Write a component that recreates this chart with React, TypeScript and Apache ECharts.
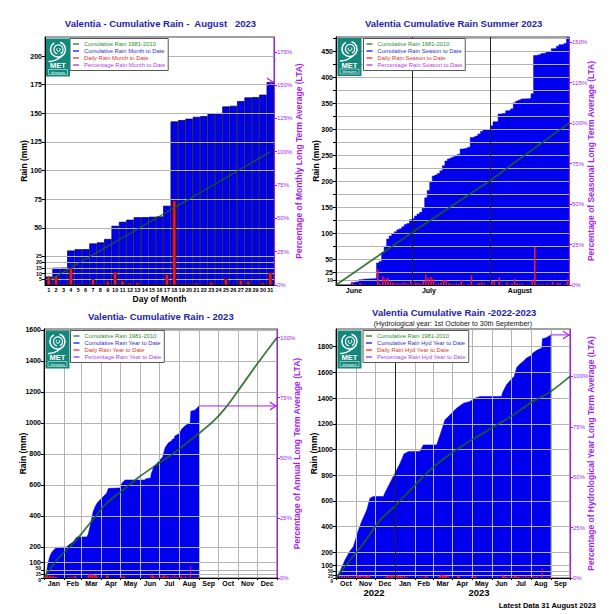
import { useEffect, useRef } from "react";
import * as echarts from "echarts";

const FONT = '"Liberation Sans", Arial, sans-serif';
const GREEN = "#1a641a";
const BLUE = "#0000ee";
const RED = "#ee1c25";
const PURPLE = "#a21ff0";
const TITLE = "#2424a6";
const GRID = "#b4b4b4";

// ---------- Panel 1: August 2023 ----------
const augDays = ["1","2","3","4","5","6","7","8","9","10","11","12","13","14","15","16","17","18","19","20","21","22","23","24","25","26","27","28","29","30","31"];
const augDaily = [7.3, 7.8, 0.1, 14.9, 1.1, 0.1, 5.0, 0.9, 3.0, 11.5, 3.5, 1.8, 2.2, 0.1, 0.3, 0.3, 9.3, 73.6, 1.2, 1.2, 1.7, 0.6, 2.3, 0.4, 5.7, 0.6, 4.1, 3.2, 0.3, 2.1, 11.0];
const augLta = [3.8, 7.5, 11.3, 15.0, 18.8, 22.5, 26.3, 30.0, 33.8, 37.5, 41.3, 45.0, 48.8, 52.5, 56.3, 60.0, 63.8, 67.5, 71.3, 75.0, 78.8, 82.5, 86.3, 90.0, 93.8, 97.5, 101.3, 105.0, 108.8, 112.6, 116.4];
const augTicks = [0, 5, 10, 15, 20, 25, 50, 75, 100, 125, 150, 175, 200];
const augMax = 216.6;
const pctTicksAug = [0, 25, 50, 75, 100, 125, 150, 175];

// ---------- Panel 2: Summer 2023 ----------
const junDaily = [0, 0, 0, 0, 0, 0, 5, 1, 0, 4, 1, 0.5, 0, 0.5, 0, 0.5, 30, 3, 17, 12, 14, 6, 5, 3, 4, 2, 4, 4, 2, 7.5];
const julDaily = [2, 5, 4, 3, 8, 20, 14, 16, 12, 2, 3, 5, 10, 9, 4, 2, 2, 3, 2, 10, 1, 0.5, 2, 19, 1, 1.5, 4, 5, 3, 0.5, 0];
const summerLta = [[0, 0], [30, 101], [61, 202], [92, 312]];
const summerTicks = [0, 10, 25, 50, 75, 100, 125, 150, 175, 200, 225, 250, 275, 300, 325, 350, 375, 400, 425, 450, 475];
const summerLabels = [0, 10, 25, 50, 100, 150, 200, 250, 300, 350, 400, 450];
const summerMonthPos = [7.1, 36.7, 72.6];
const summerMonthNames = ["June", "July", "August"];
const summerMonthLines = [30, 61];
const summerMax = 478;
const pctTicksSummer = [0, 25, 50, 75, 100, 125, 150];

// ---------- Panel 3: Year 2023 ----------
const yearCum = [[0,0],[2,15],[4,40],[6,90],[9,138],[12,165],[15,180],[18,192],[20,198],[35,200],[39,213],[46,234],[51,262],[52,265],[67,265],[69,280],[72,331],[75,390],[77,428],[80,460],[83,482],[90,514],[98,546],[101,578],[119,580],[122,611],[127,632],[157,632],[161,642],[167,645],[168,674],[170,694],[172,720],[176,734],[181,758],[186,780],[187,800],[188,814],[189,830],[190,842],[195,871],[200,884],[201,894],[204,897],[205,916],[212,931],[213,939],[216,962],[222,984],[229,1001],[230,1075],[236,1082],[243,1109]];
const yearLta = [[0,0],[20,116],[46,224],[72,353],[98,482],[124,568],[150,654],[176,729],[203,804],[223,869],[243,933],[265,1009],[284,1095],[307,1224],[333,1374],[365,1550]];
const janMayRain = [[1,5],[2,8],[3,12],[4,20],[5,15],[6,18],[7,10],[8,6],[9,16],[10,12],[11,6],[12,14],[13,10],[15,14],[16,8],[18,10],[19,8],[20,6],[36,4],[38,5],[40,6],[43,8],[46,10],[48,12],[50,15],[51,6],[68,8],[70,14],[71,22],[72,25],[74,20],[75,25],[76,24],[77,22],[79,18],[80,16],[81,20],[83,18],[85,10],[90,12],[98,12],[99,15],[100,18],[101,14],[120,10],[122,12],[124,10],[126,12],[127,10]];
const yearMonthStarts = [0, 31, 59, 90, 120, 151, 181, 212, 243, 273, 304, 334, 365];
const yearMonthMids = [15.5, 45, 74.5, 105, 135.5, 166, 196.5, 227.5, 258, 288.5, 319, 349.5];
const monthsJan = ["Jan", "Feb", "Mar", "Apr", "May", "Jun", "Jul", "Aug", "Sep", "Oct", "Nov", "Dec"];
const yearTicks = [0, 25, 50, 100, 200, 400, 600, 800, 1000, 1200, 1400, 1600];
const yearMax = 1605;
const pctTicks = [0, 25, 50, 75, 100];

// ---------- Panel 4: Hydrological year 2022-2023 ----------
const hydCum = [[0,0],[6,49],[14,140],[22,213],[27,244],[35,374],[40,439],[48,530],[53,621],[58,634],[74,634],[76,660],[84,738],[92,816],[100,894],[106,966],[113,984],[131,985],[136,1036],[157,1036],[165,1153],[170,1231],[178,1270],[188,1322],[199,1361],[209,1374],[217,1400],[225,1413],[258,1413],[260,1445],[262,1465],[266,1504],[273,1545],[278,1570],[282,1640],[287,1665],[293,1690],[297,1712],[304,1730],[308,1755],[314,1775],[321,1790],[322,1862],[328,1870],[335,1892]];
const hydLta = [[0,0],[22,140],[43,270],[69,452],[92,560],[121,712],[147,842],[173,945],[199,1036],[225,1114],[251,1192],[277,1270],[303,1361],[335,1452],[365,1569]];
const octDecRain = [[3,10],[6,15],[9,12],[11,18],[14,15],[17,14],[20,16],[22,12],[25,10],[27,14],[29,8],[33,20],[35,25],[37,18],[39,22],[41,15],[44,20],[46,18],[48,15],[50,20],[52,25],[53,15],[77,8],[79,12],[81,15],[83,20],[85,25],[87,18],[89,22],[91,20]];
const hydMonthStarts = [0, 31, 61, 92, 123, 151, 182, 212, 243, 273, 304, 335, 365];
const hydMonthMids = [15.5, 46, 76.5, 107.5, 137, 166.5, 197, 227.5, 258, 288.5, 319.5, 350];
const monthsOct = ["Oct", "Nov", "Dec", "Jan", "Feb", "Mar", "Apr", "May", "Jun", "Jul", "Aug", "Sep"];
const hydTicks = [0, 25, 50, 100, 200, 400, 600, 800, 1000, 1200, 1400, 1600, 1800];
const hydMax = 1938;
const hydYearLine = [92];

const cumsum = (a: number[]) => {
  let s = 0;
  return a.map((v) => Math.round((s += v) * 10) / 10);
};
const last = <T,>(a: T[]) => a[a.length - 1];
const labelFn = (pos: number[], names: string[]) => (v: number) => {
  let best = 0;
  pos.forEach((p, i) => {
    if (Math.abs(p - v) < Math.abs(pos[best] - v)) best = i;
  });
  return names[best];
};

const CHEVRON = "path://M0,0L10,5L0,10L0,8.4L7.2,5L0,1.6Z";

// label formatters for crowded low ticks
const augFmt = (v: number) => (v <= 25 ? `{s|${v}}` : String(v));
const summerFmt = (v: number) => (v <= 10 ? `{s|${v}}` : String(v));
const yearFmt = (v: number) => (v === 0 ? "{lo|0}" : v === 25 ? "{t|25}" : v === 50 ? "{hi|50}" : String(v));
const hydFmt = (v: number) => (v === 0 ? "{lo2|0}" : v === 25 ? "{mid2|25}" : v === 50 ? "{t|50}" : String(v));
const base5 = { fontSize: 5, fontWeight: "bold", color: "#000", fontFamily: FONT };
const smallRich = {
  s: { ...base5, fontSize: 5.5 },
  t: { ...base5, fontSize: 4.5 },
  lo: { ...base5, padding: [4, 0, 0, 0] },
  hi: { ...base5, padding: [0, 0, 4, 0] },
  lo2: { ...base5, fontSize: 4.5, padding: [7, 0, 0, 0] },
  mid2: { ...base5, fontSize: 4.5, padding: [3, 0, 0, 0] },
};

function buildOption() {
  const augCum = cumsum(augDaily);
  const ltaAug = last(augLta);
  const pctAug = (last(augCum) / ltaAug) * 100;

  const summerDaily = [...junDaily, ...julDaily, ...augDaily];
  const summerCum = cumsum(summerDaily);
  const summerArea = summerCum.map((c, i) => [i, c]).concat([[summerDaily.length, last(summerCum)]]);
  const summerBars = summerDaily.map((v, i) => [i + 0.5, v]).filter((d) => d[1] > 0);
  const ltaSummer = last(summerLta)[1];
  const pctSummer = (last(summerCum) / ltaSummer) * 100;

  const juneStartYear = yearMonthStarts[5];
  const yearBars = janMayRain
    .map(([d, v]) => [d - 0.5, v])
    .concat(summerDaily.map((v, i) => [juneStartYear + i + 0.5, v]))
    .filter((d) => d[1] > 0);
  const ltaYear = last(yearLta)[1];
  const pctYear = (last(yearCum)[1] / ltaYear) * 100;

  const janStartHyd = hydMonthStarts[3];
  const juneStartHyd = hydMonthStarts[8];
  const hydBars = octDecRain
    .map(([d, v]) => [d - 0.5, v])
    .concat(janMayRain.map(([d, v]) => [janStartHyd + d - 0.5, v]))
    .concat(summerDaily.map((v, i) => [juneStartHyd + i + 0.5, v]))
    .filter((d) => d[1] > 0);
  const ltaHyd = last(hydLta)[1];
  const pctHyd = (last(hydCum)[1] / ltaHyd) * 100;

  const grids = [
    { left: 45, top: 37, width: 229, height: 248 },
    { left: 336, top: 37, width: 233, height: 248 },
    { left: 44, top: 329, width: 233, height: 249 },
    { left: 336, top: 329, width: 234, height: 249 },
  ].map((g) => ({ ...g, show: true, borderColor: "#444", borderWidth: 1, containLabel: false, outerBoundsMode: "none" }));

  const nameStyle = { fontSize: 8.5, fontWeight: "bold", color: "#000", fontFamily: FONT };

  const yLeft = (gridIndex: number, max: number, ticks: number[], labels: number[], gap: number, fmt: any) => ({
    type: "value", gridIndex, min: 0, max, z: 2,
    name: "Rain (mm)", nameLocation: "middle", nameGap: gap, nameRotate: 90, nameMoveOverlap: false,
    nameTextStyle: nameStyle,
    axisLine: { show: true, onZero: false, lineStyle: { color: "#000", width: 1 } },
    axisTick: { show: true, length: 3, customValues: ticks, lineStyle: { color: "#000" } },
    axisLabel: { customValues: labels, formatter: fmt, rich: smallRich, fontSize: 7, fontWeight: "bold", color: "#000", margin: 3, fontFamily: FONT },
    splitLine: { show: true, lineStyle: { color: GRID, width: 1 } },
  });
  const yRight = (gridIndex: number, max: number, ticks: number[], name: string, gap: number) => ({
    type: "value", gridIndex, position: "right", min: 0, max, z: 2,
    name, nameLocation: "middle", nameGap: gap, nameRotate: 90, nameMoveOverlap: false,
    nameTextStyle: { ...nameStyle, color: PURPLE },
    axisLine: { show: true, onZero: false, lineStyle: { color: PURPLE, width: 1 } },
    axisTick: { show: true, length: 3, customValues: ticks, lineStyle: { color: PURPLE } },
    axisLabel: { customValues: ticks, formatter: "{value}%", fontSize: 6, color: PURPLE, margin: 3, fontFamily: FONT },
    splitLine: { show: false },
  });
  const xVal = (gridIndex: number, max: number, tickVals: number[], labelVals: number[], names: string[], split: boolean, showTick: boolean) => ({
    type: "value", gridIndex, min: 0, max, z: 2,
    axisLine: { show: true, onZero: false, lineStyle: { color: "#000", width: 1 } },
    axisTick: { show: showTick, length: 2, customValues: tickVals, lineStyle: { color: "#000" } },
    axisLabel: { customValues: labelVals, formatter: labelFn(labelVals, names), fontSize: 7, fontWeight: "bold", color: "#000", margin: 2, fontFamily: FONT },
    splitLine: { show: split, lineStyle: { color: GRID, width: 1 } },
  });

  const xAxis = [
    {
      type: "category", gridIndex: 0, data: augDays, z: 2,
      axisLine: { onZero: false, lineStyle: { color: "#000", width: 1 } },
      axisTick: { show: false },
      axisLabel: { interval: 0, fontSize: 5.5, fontWeight: "bold", color: "#000", margin: 2, fontFamily: FONT },
      splitLine: { show: false },
      name: "Day of Month", nameLocation: "middle", nameGap: 9, nameMoveOverlap: false, nameTextStyle: nameStyle,
    },
    { type: "category", gridIndex: 0, data: augDays, show: false },
    { type: "value", gridIndex: 0, min: 0.5, max: 31.5, show: false },
    xVal(1, summerDaily.length, summerMonthLines, summerMonthPos, summerMonthNames, false, false),
    xVal(2, 365, yearMonthStarts, yearMonthMids, monthsJan, true, true),
    xVal(3, 365, hydMonthStarts, hydMonthMids, monthsOct, true, true),
  ];

  const yAxis = [
    yLeft(0, augMax, augTicks, augTicks, 17, augFmt),
    yRight(0, (augMax / ltaAug) * 100, pctTicksAug, "Percentage of Monthly Long Term Average (LTA)", 20),
    yLeft(1, summerMax, summerTicks, summerLabels, 16, summerFmt),
    yRight(1, (summerMax / ltaSummer) * 100, pctTicksSummer, "Percentage of Seasonal Long Term Average (LTA)", 17),
    yLeft(2, yearMax, yearTicks, yearTicks, 17, yearFmt),
    yRight(2, (yearMax / ltaYear) * 100, pctTicks, "Percentage of Annual Long Term Average (LTA)", 15),
    yLeft(3, hydMax, hydTicks, hydTicks, 18, hydFmt),
    yRight(3, (hydMax / ltaHyd) * 100, pctTicks, "Percentage of Hydrological Year Long Term Average (LTA)", 16),
  ];

  const greenLine = (xi: number, yi: number, data: any[], width: number, smooth: number | boolean, extra: any = {}) => ({
    name: "Cumulative Rain 1981-2010", type: "line", xAxisIndex: xi, yAxisIndex: yi, data,
    symbol: "none", smooth, z: 4,
    lineStyle: { color: GREEN, width, opacity: 0.85 }, itemStyle: { color: GREEN },
    ...extra,
  });
  const blueArea = (name: string, xi: number, yi: number, data: any[], step: any) => ({
    name, type: "line", xAxisIndex: xi, yAxisIndex: yi, data, step, symbol: "none", z: 1,
    lineStyle: { color: BLUE, width: 0.5 }, itemStyle: { color: BLUE },
    areaStyle: { color: BLUE, opacity: 1 },
  });
  const redBars = (name: string, xi: number, yi: number, data: any[], width: number) => ({
    name, type: "bar", xAxisIndex: xi, yAxisIndex: yi, data, barWidth: width, z: 3,
    itemStyle: { color: RED },
  });
  const purple = (name: string, xi: number, yi: number, x0: number, x1: number, pct: number, arrow: boolean) => ({
    name, type: "line", xAxisIndex: xi, yAxisIndex: yi, clip: false, z: 5,
    data: [
      { value: [x0, pct], symbol: "none" },
      arrow
        ? { value: [x1, pct], symbol: CHEVRON, symbolSize: [7, 9], symbolOffset: [-3.5, 0] }
        : { value: [x1, pct], symbol: "none" },
    ],
    showAllSymbol: true,
    lineStyle: { color: PURPLE, width: 1 }, itemStyle: { color: PURPLE },
  });
  const blackLines = (vals: number[]) => ({
    markLine: {
      silent: true, symbol: ["none", "none"], label: { show: false },
      lineStyle: { color: "#222", width: 1, type: "solid" },
      data: vals.map((v) => ({ xAxis: v })),
    },
  });

  const series = [
    // Panel 1
    {
      name: "Cumulative Rain Month to Date", type: "bar", xAxisIndex: 0, yAxisIndex: 0, data: augCum,
      barCategoryGap: "0%", z: 1,
      itemStyle: { color: BLUE, borderColor: "#000033", borderWidth: 0.7 },
    },
    {
      name: "Daily Rain Month to Date", type: "bar", xAxisIndex: 1, yAxisIndex: 0, data: augDaily,
      barWidth: "48%", z: 3,
      itemStyle: { color: RED, borderColor: "#5a0000", borderWidth: 0.5 },
    },
    greenLine(0, 0, augLta, 1.3, false),
    purple("Percentage Rain Month to Date", 2, 1, 31, 31.5, pctAug, true),
    // Panel 2
    blueArea("Cumulative Rain Season to Date", 3, 2, summerArea, "end"),
    redBars("Daily Rain Season to Date", 3, 2, summerBars, 1.6),
    greenLine(3, 2, summerLta, 1.8, false, blackLines(summerMonthLines)),
    purple("Percentage Rain Season to Date", 3, 3, summerDaily.length - 0.3, summerDaily.length, pctSummer, false),
    // Panel 3
    blueArea("Cumulative Rain Year to Date", 4, 4, yearCum, false),
    redBars("Daily Rain Year to Date", 4, 4, yearBars, 1),
    greenLine(4, 4, yearLta, 1.8, 0.3),
    purple("Percentage Rain Year to Date", 4, 5, last(yearCum)[0], 365, pctYear, true),
    // Panel 4
    blueArea("Cumulative Rain Hyd Year to Date", 5, 6, hydCum, false),
    redBars("Daily Rain Hyd Year to Date", 5, 6, hydBars, 1),
    greenLine(5, 6, hydLta, 1.8, 0.3, blackLines(hydYearLine)),
    purple("Percentage Rain Hyd Year to Date", 5, 7, last(hydCum)[0], 365, pctHyd, true),
  ];

  const legendBase = {
    orient: "vertical", icon: "rect", itemWidth: 6, itemHeight: 1.2, itemGap: 0,
    padding: [2, 3, 2, 3], borderColor: "#555", borderWidth: 1, backgroundColor: "#fff",
    selectedMode: false, z: 10,
    itemStyle: { borderWidth: 0 },
    textStyle: { fontSize: 5.8, lineHeight: 7, fontFamily: FONT },
  };
  const legendData = (kind: string) => [
    { name: "Cumulative Rain 1981-2010", textStyle: { color: "#2e8b2e" } },
    { name: `Cumulative Rain ${kind} to Date`, textStyle: { color: "#3030c0" } },
    { name: `Daily Rain ${kind} to Date`, textStyle: { color: "#e03030" } },
    { name: `Percentage Rain ${kind} to Date`, textStyle: { color: "#b040e0" } },
  ];
  const legend = [
    { ...legendBase, left: 70, top: 38.5, data: legendData("Month") },
    { ...legendBase, left: 363.5, top: 38.5, data: legendData("Season") },
    { ...legendBase, left: 70.5, top: 330.5, data: legendData("Year") },
    { ...legendBase, left: 363, top: 330.5, data: legendData("Hyd Year") },
  ];

  const Z = 20;
  const logo = (x: number, y: number) => ({
    type: "group", x, y, z: Z,
    children: [
      { type: "rect", z: Z, shape: { x: 0, y: 0, width: 24, height: 38 }, style: { fill: "#13877b" } },
      { type: "arc", z: Z, shape: { cx: 12, cy: 11, r: 7.5, startAngle: -1.3, endAngle: 4.2 }, style: { stroke: "#fff", lineWidth: 1.5, fill: "none" } },
      { type: "arc", z: Z, shape: { cx: 12.5, cy: 11, r: 4.6, startAngle: 1.8, endAngle: 7.4 }, style: { stroke: "#fff", lineWidth: 1.2, fill: "none" } },
      { type: "arc", z: Z, shape: { cx: 12.5, cy: 11, r: 1.8, startAngle: -1, endAngle: 4 }, style: { stroke: "#fff", lineWidth: 1, fill: "none" } },
      { type: "bezierCurve", z: Z, shape: { x1: 2.5, y1: 23, x2: 15.5, y2: 18, cpx1: 8, cpy1: 23.5 }, style: { stroke: "#fff", lineWidth: 1.5, fill: "none" } },
      { type: "text", z: Z, x: 12, y: 27, style: { text: "MET", fill: "#fff", fontSize: 7.5, fontWeight: "bold", fontFamily: FONT, align: "center", verticalAlign: "middle" } },
      { type: "rect", z: Z, shape: { x: 2.5, y: 31, width: 19, height: 5 }, style: { fill: "none", stroke: "#fff", lineWidth: 0.5 } },
      { type: "text", z: Z, x: 12, y: 33.6, style: { text: "éireann", fill: "#fff", fontSize: 4.2, fontFamily: FONT, align: "center", verticalAlign: "middle" } },
    ],
  });
  const txt = (text: string, x: number, y: number, size: number, color: string, bold: boolean, align = "center") => ({
    type: "text", x, y, z: Z,
    style: { text, fill: color, fontSize: size, fontWeight: bold ? "bold" : "normal", fontFamily: FONT, align, verticalAlign: "middle" },
  });

  const graphic = [
    logo(46, 38.5),
    logo(337.5, 38),
    logo(45.5, 330.5),
    logo(337.5, 330.5),
    txt("Valentia - Cumulative Rain -  August   2023", 160.5, 23.3, 9.5, TITLE, true),
    txt("Valentia Cumulative Rain Summer 2023", 453.7, 23.3, 9.5, TITLE, true),
    txt("Valentia- Cumulative Rain - 2023", 160.8, 316, 9.5, TITLE, true),
    txt("Valentia Cumulative Rain -2022-2023", 454.2, 312.7, 9.5, TITLE, true),
    txt("(Hydrological year: 1st October to 30th September)", 452.8, 323.3, 7, "#111", false),
    txt("2022", 374, 592.3, 9.5, "#000", true),
    txt("2023", 479, 592.3, 9.5, "#000", true),
    txt("Latest Data 31 August 2023", 596, 605, 7.5, "#000", true, "right"),
  ];

  return {
    animation: false,
    backgroundColor: "#fff",
    textStyle: { fontFamily: FONT },
    grid: grids,
    xAxis,
    yAxis,
    series,
    legend,
    graphic,
  };
}

export default function App() {
  const ref = useRef<HTMLDivElement>(null);
  useEffect(() => {
    document.body.style.margin = "0";
    const chart = echarts.init(ref.current!, undefined, { renderer: "svg" });
    chart.setOption(buildOption() as any);
    return () => chart.dispose();
  }, []);
  return <div ref={ref} style={{ width: 614, height: 614 }} />;
}
